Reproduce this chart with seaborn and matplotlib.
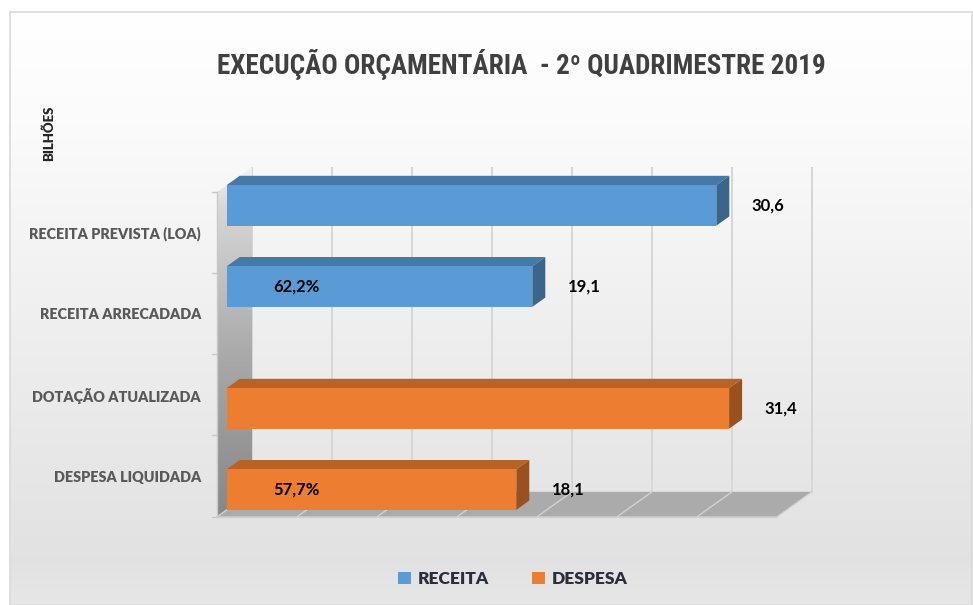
import numpy as np
import pandas as pd
import matplotlib
matplotlib.use("Agg")
import matplotlib.pyplot as plt
import seaborn as sns
from matplotlib.patches import Polygon, Patch, Rectangle
from matplotlib.transforms import ScaledTranslation
from matplotlib import font_manager as fm

# ---------------- data ----------------
categories = ["RECEITA PREVISTA (LOA)", "RECEITA ARRECADADA",
              "DOTAÇÃO ATUALIZADA", "DESPESA LIQUIDADA"]
values = [30.6, 19.1, 31.4, 18.1]
series = ["RECEITA", "RECEITA", "DESPESA", "DESPESA"]
value_labels = ["30,6", "19,1", "31,4", "18,1"]
pct_labels = ["", "62,2%", "", "57,7%"]
series_names = ["RECEITA", "DESPESA"]
series_colors = ["#5B9BD5", "#ED7D31"]
grid_ticks = [0, 5, 10, 15, 20, 25, 30, 35]
title = "EXECUÇÃO ORÇAMENTÁRIA  - 2º QUADRIMESTRE 2019"
unit_label = "BILHÕES"

# ---------------- fonts ----------------
sns.set_theme(style="white")
avail = {f.name for f in fm.fontManager.ttflist}
def pick(*names):
    for n in names:
        if n in avail:
            return n
    return "DejaVu Sans"
LABEL_FONT = pick("Lato", "Open Sans", "Noto Sans")
TITLE_FONT = pick("Liberation Sans Narrow", "Roboto Condensed", "Liberation Sans", "Roboto")
plt.rcParams["font.family"] = [LABEL_FONT, "DejaVu Sans"]

W, H = 973, 605
fig = plt.figure(figsize=(W / 100, H / 100), dpi=100)
fig.patch.set_facecolor("white")

# background gradient + border
bg = fig.add_axes([0, 0, 1, 1], zorder=-10)
bg.set_xlim(0, W); bg.set_ylim(H, 0); bg.axis("off")
rows = np.arange(12, H)
v = np.interp(rows, [12, 120, 330, 560, 605], [1.0, 0.985, 0.935, 0.885, 0.905])
img = np.dstack([v[:, None]] * 3)
bg.imshow(img, extent=(10, W - 1, H, 12), aspect="auto", interpolation="bilinear")
bg.add_patch(Rectangle((10, 12), W - 11, H - 12, fill=False, ec="#d9d9d9", lw=1.2))

# decoration layer (pixel coordinates, y down)
deco = fig.add_axes([0, 0, 1, 1], zorder=0)
deco.set_xlim(0, W); deco.set_ylim(H, 0); deco.axis("off")
deco.patch.set_alpha(0)

# bar (front) plane axes
ax = fig.add_axes([226.7 / W, (H - 509.9) / H, 560 / W, 324.8 / H], zorder=1)
ax.patch.set_alpha(0)

df = pd.DataFrame({"categoria": categories, "valor": values, "serie": series})
sns.barplot(data=df, y="categoria", x="valor", hue="serie", hue_order=series_names,
            palette=series_colors, dodge=True, width=1.0, saturation=1,
            legend=False, ax=ax)
ax.set_xlim(0, grid_ticks[-1])
ax.set_ylim(len(categories) - 0.5, -0.5)
ax.set_xlabel(""); ax.set_ylabel("")
ax.set_xticks([])
for s in ax.spines.values():
    s.set_visible(False)

SLOPE = 0.715
D_FRONT, D_BAR, D_WALL = -9.4, 13.0, 25.3

def P(x, y, d):
    px, py = ax.transData.transform((x, y))
    return (px + d, H - py - d * SLOPE)

ylo, yhi = -0.5, len(categories) - 0.5
xmax = grid_ticks[-1]

# back wall gridlines
for t in grid_ticks:
    a = P(t, yhi, D_WALL); b = P(t, ylo, D_WALL)
    deco.plot([a[0], b[0]], [a[1], b[1]], color="#d6d6d6", lw=1.4, zorder=1,
              solid_capstyle="butt")

# floor
floor = [P(0, yhi, D_FRONT), P(xmax, yhi, D_FRONT), P(xmax, yhi, D_WALL), P(0, yhi, D_WALL)]
deco.add_patch(Polygon(floor, closed=True, fc="#ababab", ec="none", zorder=2))
for t in grid_ticks:
    a = P(t, yhi, D_FRONT); b = P(t, yhi, D_WALL)
    deco.plot([a[0], b[0]], [a[1], b[1]], color="#d2d2d2", lw=1.0, zorder=2.5)
fa, fb = P(0, yhi, D_FRONT), P(xmax, yhi, D_FRONT)
deco.plot([fa[0], fb[0]], [fa[1] + 0.5, fb[1] + 0.5], color="#cfcfcf", lw=1.0, zorder=2.5)

# left wall with gradient
wall = [P(0, ylo, D_FRONT), P(0, yhi, D_FRONT), P(0, yhi, D_WALL), P(0, ylo, D_WALL)]
wall_poly = Polygon(wall, closed=True, fc="none", ec="none", transform=deco.transData)
xs = [p[0] for p in wall]; ys = [p[1] for p in wall]
wr = np.linspace(0, 1, 200)
wv = np.interp(wr, [0, 0.12, 0.55, 1.0], [0.95, 0.84, 0.66, 0.53])
wimg = np.dstack([wv[:, None]] * 3)
im = deco.imshow(wimg, extent=(min(xs), max(xs), max(ys), min(ys)), aspect="auto",
                 interpolation="bilinear", zorder=2)
im.set_clip_path(wall_poly)
fl = P(0, ylo, D_FRONT)
deco.plot([fl[0], fl[0]], [fl[1], P(0, yhi, D_FRONT)[1]], color="#c8c8c8", lw=1.0, zorder=2.6)
for i in range(len(categories) + 1):
    q = P(0, ylo + i, D_FRONT)
    deco.plot([q[0] - 5, q[0]], [q[1], q[1]], color="#c8c8c8", lw=1.0, zorder=2.6)

# 3D faces of the bars
def shade(c, f):
    r, g, b = matplotlib.colors.to_rgb(c)
    return (r * f, g * f, b * f)

bars = [p for p in ax.patches if p.get_width() > 0]
bars.sort(key=lambda p: p.get_y())
for p, vl, pl in zip(bars, value_labels, pct_labels):
    p.set_zorder(3)
    p.set_edgecolor("none")
    x0, x1 = p.get_x(), p.get_x() + p.get_width()
    ya, yb = p.get_y(), p.get_y() + p.get_height()
    ytop, ybot = min(ya, yb), max(ya, yb)
    fc = p.get_facecolor()
    top = [P(x0, ytop, 0), P(x1, ytop, 0), P(x1, ytop, D_BAR), P(x0, ytop, D_BAR)]
    side = [P(x1, ytop, 0), P(x1, ybot, 0), P(x1, ybot, D_BAR), P(x1, ytop, D_BAR)]
    ax.add_patch(Polygon(top, closed=True, fc=shade(fc, 0.78), ec="none",
                         transform=deco.transData, clip_on=False, zorder=2.9))
    ax.add_patch(Polygon(side, closed=True, fc=shade(fc, 0.65), ec="none",
                         transform=deco.transData, clip_on=False, zorder=2.9))
    yc = (ytop + ybot) / 2
    ax.text(x1 + 2.2, yc, vl, ha="left", va="center", fontsize=12,
            fontweight="bold", color="black", zorder=5, clip_on=False)
    if pl:
        ax.text(2.9, yc, pl, ha="left", va="center", fontsize=12,
                fontweight="bold", color="black", zorder=5)

# category labels (on the front edge of the floor plane)
ax.set_yticks(range(len(categories)), categories)
ax.tick_params(axis="y", length=0, pad=18.5)
shift = ScaledTranslation(0, -6.7 / 100, fig.dpi_scale_trans)
for lab in ax.get_yticklabels():
    lab.set_fontsize(10.4)
    lab.set_fontweight("heavy")
    lab.set_color("#595959")
    lab.set_transform(lab.get_transform() + shift)

# title, unit, legend
fig.text(521 / W, 1 - 64 / H, title, ha="center", va="center", fontsize=19.5,
         fontweight="bold", color="#404040", family=[TITLE_FONT, "DejaVu Sans"])
fig.text(49 / W, 1 - 133 / H, unit_label, rotation=90, ha="center", va="center",
         fontsize=9.5, fontweight="heavy", color="#262626")
handles = [Patch(facecolor=c, edgecolor="none", label=n)
           for c, n in zip(series_colors, series_names)]
fig.legend(handles=handles, loc="center", bbox_to_anchor=(513 / W, 1 - 579 / H),
           ncol=2, frameon=False, prop={"size": 12.5, "weight": "heavy"},
           handlelength=0.72, handleheight=0.72, handletextpad=0.4,
           columnspacing=2.5, labelcolor="#262f3b")

fig.savefig("out.png", dpi=100)
